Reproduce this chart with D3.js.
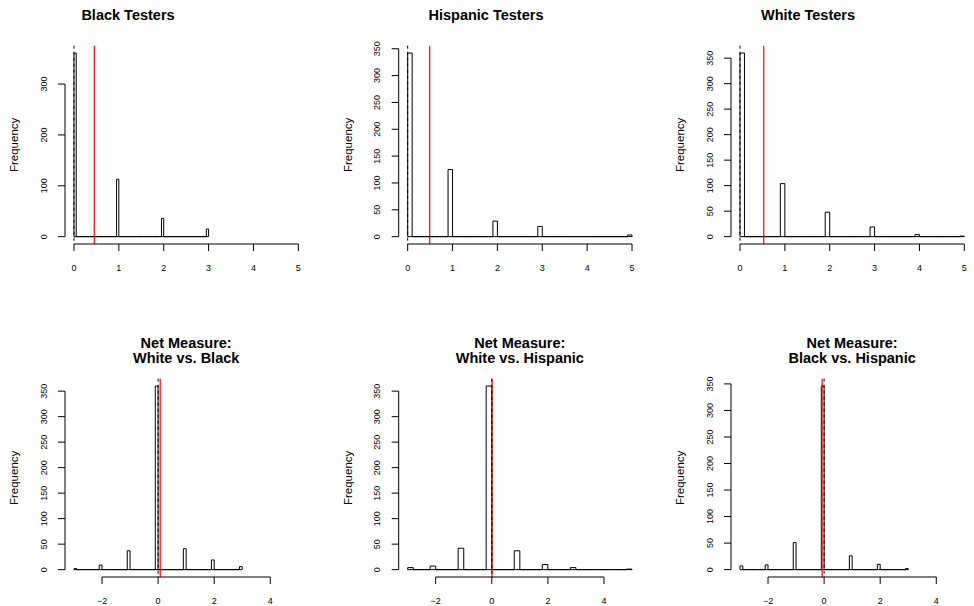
<!DOCTYPE html>
<html>
<head>
<meta charset="utf-8">
<script src="https://cdn.jsdelivr.net/npm/d3@7"></script>
<style>
  body { margin: 0; background: #fff; }
  svg { display: block; }
  text { font-family: "Liberation Sans", Arial, Helvetica, sans-serif; fill: #000; }
</style>
</head>
<body>
<svg id="chart" width="974" height="606"></svg>
<script>
// Integer scores and how many testers received each one
const grossValues = [0, 1, 2, 3, 4, 5];
const blackCounts = [361, 113, 36, 15];
const hispanicCounts = [342, 125, 29, 19, 0, 3];
const whiteCounts = [360, 104, 48, 19, 4, 1];

const netValues = [-3, -2, -1, 0, 1, 2, 3, 4, 5];
const whiteBlackCounts = [2, 9, 37, 360, 41, 19, 6];
const whiteHispanicCounts = [4, 7, 42, 360, 37, 10, 4, 0, 1];
const blackHispanicCounts = [7, 9, 51, 346, 26, 10, 2];

// Panel text and summary statistics (red = mean, dashed = median)
const panelTitles = [
  ["Black Testers"], ["Hispanic Testers"], ["White Testers"],
  ["Net Measure:", "White vs. Black"],
  ["Net Measure:", "White vs. Hispanic"],
  ["Net Measure:", "Black vs. Hispanic"]
];
const panelMeans = [0.452, 0.491, 0.529, 0.075, 0.01, -0.07];
const panelMedians = [0, 0, 0, 0, 0, 0];
const binWidths = [0.05, 0.1, 0.1, 0.1, 0.2, 0.1];

// Axis settings
const grossLimits = [0, 5];
const netLimits = [-3, 5];
const grossTicksX = [0, 1, 2, 3, 4, 5];
const netTicksX = [-2, 0, 2, 4];
const yTicksHundreds = [0, 100, 200, 300];
const yTicksFifties = [0, 50, 100, 150, 200, 250, 300, 350];

const panels = [
  { values: grossValues, counts: blackCounts, limits: grossLimits, ticksX: grossTicksX, ticksY: yTicksHundreds },
  { values: grossValues, counts: hispanicCounts, limits: grossLimits, ticksX: grossTicksX, ticksY: yTicksFifties },
  { values: grossValues, counts: whiteCounts, limits: grossLimits, ticksX: grossTicksX, ticksY: yTicksFifties },
  { values: netValues, counts: whiteBlackCounts, limits: netLimits, ticksX: netTicksX, ticksY: yTicksFifties },
  { values: netValues, counts: whiteHispanicCounts, limits: netLimits, ticksX: netTicksX, ticksY: yTicksFifties },
  { values: netValues, counts: blackHispanicCounts, limits: netLimits, ticksX: netTicksX, ticksY: yTicksFifties }
];
panels.forEach((p, i) => {
  p.title = panelTitles[i];
  p.mean = panelMeans[i];
  p.median = panelMedians[i];
  p.binWidth = binWidths[i];
});

// Plot-region geometry
const plotLefts = [65, 398.7, 731];
const rowTops = [45.7, 378.7];
const plotW = 242.3;
const plotH = 198.3;
const topTitleCenters = [128, 486, 808];

const svg = d3.select("#chart");
const fmt = d3.format("");

// Right-closed bins (first bin closed on both sides), covering the data range
function makeBins(values, counts, width) {
  const n = counts.length;
  const lo = values[0], hi = values[n - 1];
  const nb = Math.round((hi - lo) / width);
  const bins = d3.range(nb).map(k => ({
    x0: lo + k * width, x1: lo + (k + 1) * width, count: 0
  }));
  for (let j = 0; j < n; j++) {
    const v = values[j];
    const idx = v === lo ? 0 : Math.round((v - lo) / width) - 1;
    bins[idx].count += counts[j];
  }
  return bins;
}

panels.forEach((p, i) => {
  const col = i % 3, row = Math.floor(i / 3);
  const left = plotLefts[col], top = rowTops[row];
  const g = svg.append("g");

  const span = p.limits[1] - p.limits[0];
  const x = d3.scaleLinear()
    .domain([p.limits[0] - 0.04 * span, p.limits[1] + 0.04 * span])
    .range([left, left + plotW]);
  const bins = makeBins(p.values, p.counts, p.binWidth);
  const ymax = d3.max(bins, b => b.count);
  const y = d3.scaleLinear()
    .domain([-0.04 * ymax, 1.04 * ymax])
    .range([top + plotH, top]);

  // Histogram bars (empty bins collapse onto the baseline)
  g.append("g").selectAll("path").data(bins).join("path")
    .attr("d", b => {
      const a = x(b.x0), c = x(b.x1), y0 = y(0), y1 = y(b.count);
      return `M${a},${y0}L${a},${y1}L${c},${y1}L${c},${y0}Z`;
    })
    .attr("fill", "#fff")
    .attr("stroke", "#000")
    .attr("stroke-width", 1);

  // Mean and median reference lines, clipped to the plot region
  g.append("line")
    .attr("x1", x(p.mean)).attr("x2", x(p.mean))
    .attr("y1", top).attr("y2", top + plotH)
    .attr("stroke", "#ff0000").attr("stroke-width", 1.2);
  g.append("line")
    .attr("x1", x(p.median)).attr("x2", x(p.median))
    .attr("y1", top).attr("y2", top + plotH)
    .attr("stroke", "#000").attr("stroke-width", 1)
    .attr("stroke-dasharray", "3,3");

  // x axis: line from first to last tick
  const xb = top + plotH;
  const ax = g.append("g").attr("stroke", "#000").attr("stroke-width", 1);
  ax.append("line")
    .attr("x1", x(p.ticksX[0])).attr("x2", x(p.ticksX[p.ticksX.length - 1]))
    .attr("y1", xb).attr("y2", xb);
  ax.selectAll("line.tick").data(p.ticksX).join("line")
    .attr("class", "tick")
    .attr("x1", d => x(d)).attr("x2", d => x(d))
    .attr("y1", xb).attr("y2", xb + 7);
  g.selectAll("text.xt").data(p.ticksX).join("text")
    .attr("class", "xt")
    .attr("x", d => x(d)).attr("y", xb + 27)
    .attr("text-anchor", "middle")
    .style("font-size", "9px")
    .text(d => fmt(d));

  // y axis: line from first to last tick, labels parallel to the axis
  const ay = g.append("g").attr("stroke", "#000").attr("stroke-width", 1);
  ay.append("line")
    .attr("x1", left).attr("x2", left)
    .attr("y1", y(p.ticksY[0])).attr("y2", y(p.ticksY[p.ticksY.length - 1]));
  ay.selectAll("line.tick").data(p.ticksY).join("line")
    .attr("class", "tick")
    .attr("x1", left - 7).attr("x2", left)
    .attr("y1", d => y(d)).attr("y2", d => y(d));
  g.selectAll("text.yt").data(p.ticksY).join("text")
    .attr("class", "yt")
    .attr("transform", d => `translate(${left - 18.5},${y(d)}) rotate(-90)`)
    .attr("text-anchor", "middle")
    .style("font-size", "9px")
    .text(d => fmt(d));

  g.append("text")
    .attr("transform", `translate(${left - 47},${top + plotH / 2}) rotate(-90)`)
    .attr("text-anchor", "middle")
    .style("font-size", "11.5px")
    .text("Frequency");

  // Panel title
  const tx = row === 0 ? topTitleCenters[col] : left + plotW / 2;
  if (p.title.length === 1) {
    g.append("text")
      .attr("x", tx).attr("y", 19.5)
      .attr("text-anchor", "middle")
      .style("font-size", "14.5px").style("font-weight", "bold")
      .text(p.title[0]);
  } else {
    p.title.forEach((t, k) => {
      g.append("text")
        .attr("x", tx).attr("y", top - 30.5 + k * 14.6)
        .attr("text-anchor", "middle")
        .style("font-size", "14.5px").style("font-weight", "bold")
        .text(t);
    });
  }
});
</script>
</body>
</html>
